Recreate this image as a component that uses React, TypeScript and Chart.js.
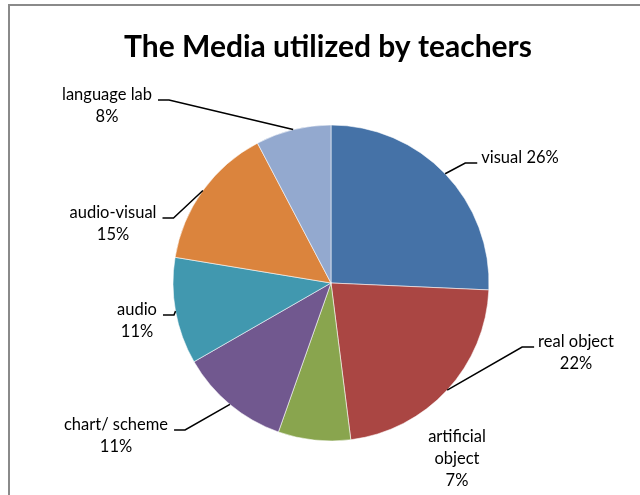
import React, { useEffect, useRef } from "react";
import { Chart, registerables } from "chart.js";

Chart.register(...registerables);

const TITLE = "The Media utilized by teachers";
const categories = [
  "visual",
  "real object",
  "artificial object",
  "chart/ scheme",
  "audio",
  "audio-visual",
  "language lab",
];
const shares = [25.7, 22.3, 7.4, 11.3, 10.9, 14.7, 7.7];
const percentLabels = ["26%", "22%", "7%", "11%", "11%", "15%", "8%"];
const labelLines = [
  ["visual 26%"],
  ["real object", "22%"],
  ["artificial", "object", "7%"],
  ["chart/ scheme", "11%"],
  ["audio", "11%"],
  ["audio-visual", "15%"],
  ["language lab", "8%"],
];
const colors = ["#4572A7", "#AA4643", "#89A54E", "#71588F", "#4198AF", "#DB843D", "#93A9CF"];

// label layout: block centre x and first-line centre y relative to pie centre; leader side
const labelLayout = [
  { dx: 189, dy: -125, side: "left", leader: true },
  { dx: 245, dy: 59, side: "left", leader: true },
  { dx: 126, dy: 154, side: "none", leader: false },
  { dx: -215, dy: 142, side: "right", leader: true },
  { dx: -194, dy: 27, side: "right", leader: true },
  { dx: -218, dy: -70, side: "right", leader: true },
  { dx: -224, dy: -188, side: "right", leader: true },
];

const FONT = "Lato, 'Open Sans', sans-serif";

const labelPlugin = {
  id: "pieLabels",
  beforeDraw(chart: any) {
    const ctx = chart.ctx;
    ctx.save();
    ctx.fillStyle = "#8a8a8a";
    ctx.fillRect(8, 4, 2, chart.height);
    ctx.fillRect(8, 4, chart.width, 2);
    ctx.restore();
  },
  afterDraw(chart: any) {
    const ctx = chart.ctx;
    const meta = chart.getDatasetMeta(0);
    ctx.save();
    // title
    ctx.fillStyle = "#000";
    ctx.font = `bold 30px ${FONT}`;
    ctx.textAlign = "center";
    ctx.textBaseline = "middle";
    ctx.fillText(TITLE, 328, 47);

    ctx.font = `16.5px ${FONT}`;
    const lineH = 22;
    meta.data.forEach((arc: any, i: number) => {
      const { x, y, startAngle, endAngle, outerRadius } = arc.getProps(
        ["x", "y", "startAngle", "endAngle", "outerRadius"],
        true
      );
      const lay = labelLayout[i];
      const lines = labelLines[i];
      const cx = x + lay.dx;
      const cy = y + lay.dy;
      ctx.fillStyle = "#000";
      ctx.textAlign = "center";
      ctx.textBaseline = "middle";
      lines.forEach((t, k) => ctx.fillText(t, cx, cy + k * lineH));
      if (lay.leader) {
        const w = ctx.measureText(lines[0]).width;
        const mid = (startAngle + endAngle) / 2;
        const px = x + Math.cos(mid) * outerRadius;
        const py = y + Math.sin(mid) * outerRadius;
        const ly = cy + 5;
        let endX, elbowX;
        if (lay.side === "left") {
          endX = cx - w / 2 - 4;
          elbowX = endX - 12;
        } else {
          endX = cx + w / 2 + 6;
          elbowX = endX + 11;
        }
        ctx.strokeStyle = "#000";
        ctx.lineWidth = 1.5;
        ctx.beginPath();
        ctx.moveTo(px, py);
        ctx.lineTo(elbowX, ly);
        ctx.lineTo(endX, ly);
        ctx.stroke();
      }
    });
    ctx.restore();
  },
};

export default function App() {
  const ref = useRef<HTMLCanvasElement>(null);
  useEffect(() => {
    if (!ref.current) return;
    const chart = new Chart(ref.current, {
      type: "pie",
      data: {
        labels: categories,
        datasets: [
          {
            data: shares,
            backgroundColor: colors,
            borderColor: "rgba(255,255,255,0.7)",
            borderWidth: 0.8,
            radius: 158,
          } as any,
        ],
      },
      options: {
        responsive: false,
        animation: false,
        devicePixelRatio: 1,
        layout: { padding: { left: 22, right: 0, top: 71, bottom: 0 } },
        plugins: {
          legend: { display: false },
          title: { display: false },
          tooltip: { enabled: false },
        },
      },
      plugins: [labelPlugin],
    });
    return () => chart.destroy();
  }, []);
  return (
    <div style={{ position: "absolute", left: 0, top: 0, width: 640, height: 495, background: "#fff" }}>
      <canvas ref={ref} width={640} height={495} style={{ display: "block" }} />
    </div>
  );
}
